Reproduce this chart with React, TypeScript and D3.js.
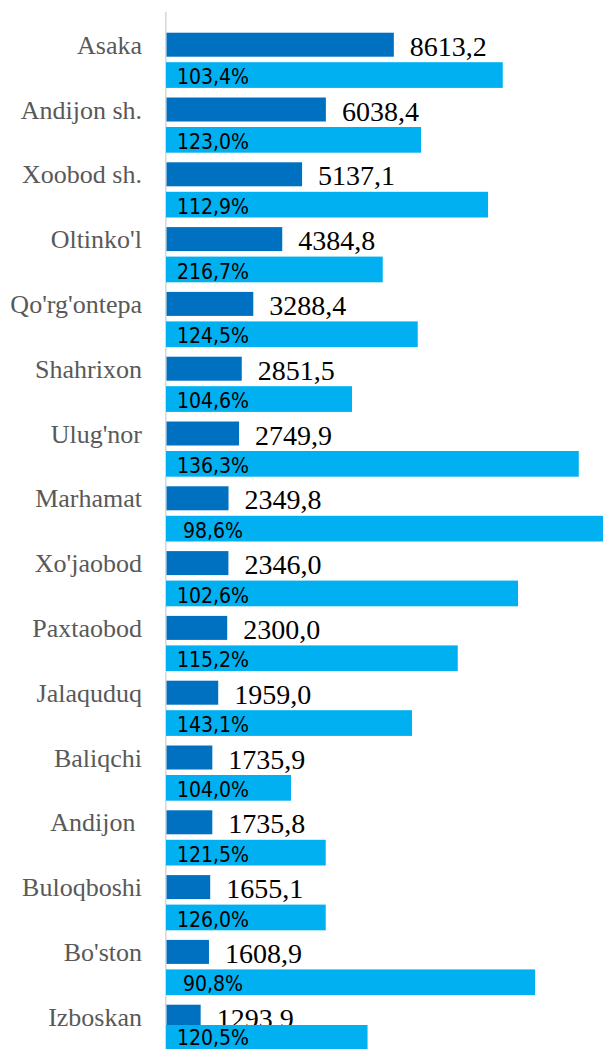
import React from "react";
import * as d3 from "d3";

const categories = [
  "Asaka", "Andijon sh.", "Xoobod sh.", "Oltinko'l", "Qo'rg'ontepa", "Shahrixon",
  "Ulug'nor", "Marhamat", "Xo'jaobod", "Paxtaobod", "Jalaquduq", "Baliqchi",
  "Andijon ", "Buloqboshi", "Bo'ston", "Izboskan",
];
const volumes = [
  8613.2, 6038.4, 5137.1, 4384.8, 3288.4, 2851.5, 2749.9, 2349.8, 2346.0, 2300.0,
  1959.0, 1735.9, 1735.8, 1655.1, 1608.9, 1293.9,
];
const secondBars = [
  12740, 9644, 12183, 8193, 9519, 7029, 15620, 16600, 13319, 11035, 9303, 4718,
  6033, 6033, 13964, 7617,
];
const growthLabels = [
  "103,4%", "123,0%", "112,9%", "216,7%", "124,5%", "104,6%", "136,3%", "98,6%",
  "102,6%", "115,2%", "143,1%", "104,0%", "121,5%", "126,0%", "90,8%", "120,5%",
];

const W = 603;
const H = 1049;
const fmt = (v: number) => v.toFixed(1).replace(".", ",");
const SERIF = "Liberation Serif, Times New Roman, DejaVu Serif, serif";
const COND = "DejaVu Sans Condensed, DejaVu Sans, sans-serif";

export default function App() {
  const x = d3.scaleLinear().domain([0, 16000]).range([166.5, 588.8]);
  const y = d3
    .scaleBand<string>()
    .domain(categories)
    .range([20, 20 + categories.length * 64.8])
    .paddingInner(0)
    .paddingOuter(0);

  const darkOff = 12.7;
  const darkH = 24;
  const lightH = 25.7;

  return (
    <div style={{ position: "absolute", left: 0, top: 0, width: W, height: H, overflow: "hidden", background: "#fff" }}>
      <svg width={W} height={H} style={{ display: "block" }}>
        <rect x={165} y={12} width={1.6} height={H - 12} fill="#d9d9d9" />
        {categories.map((c, i) => {
          const top = (y(c) ?? 0) + darkOff;
          const lightTop = Math.min(top + 29.5, H - 24);
          const pctBase = Math.min(top + 51.5, H - 4);
          return (
            <g key={c + i}>
              <text
                x={142}
                y={top + 21}
                textAnchor="end"
                fontFamily={SERIF}
                fontSize={26}
                fill="#595959"
                style={{ whiteSpace: "pre" }}
                xmlSpace="preserve"
              >
                {c}
              </text>
              <rect x={x(0)} y={top} width={x(volumes[i]) - x(0)} height={darkH} fill="#0070C0" />
              <text
                x={x(volumes[i]) + 16}
                y={top + 23}
                fontFamily={SERIF}
                fontSize={28}
                fill="#000"
              >
                {fmt(volumes[i])}
              </text>
              <rect
                x={x(0) - 0.5}
                y={lightTop}
                width={x(secondBars[i]) - x(0) + 0.5}
                height={lightH}
                fill="#00B0F0"
              />
              <text
                x={213}
                y={pctBase}
                textAnchor="middle"
                fontFamily={COND}
                fontSize={21}
                fill="#000"
              >
                {growthLabels[i]}
              </text>
            </g>
          );
        })}
      </svg>
    </div>
  );
}
